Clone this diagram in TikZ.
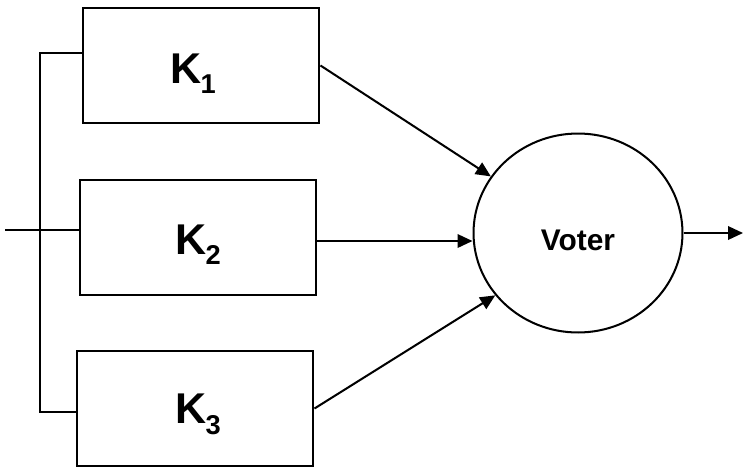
\documentclass[tikz,border=0pt]{standalone}
\usepackage{fontspec}
\setmainfont{Liberation Sans}
\usetikzlibrary{arrows.meta,shapes.geometric}

\newcommand{\klabel}[1]{K\kern-0.5pt\raisebox{-6pt}{\fontsize{15.5}{16}\selectfont #1}}

\tikzset{
    kbox/.style={draw, line width=1.15pt, minimum width=4.74cm, minimum height=2.3cm,
                 inner sep=0pt},
    ktext/.style={inner sep=0pt, font=\fontsize{24.5}{28}\selectfont\bfseries},
    voterc/.style={draw, ellipse, line width=1.15pt, minimum width=4.18cm, minimum height=3.98cm,
                   inner sep=0pt},
    vtext/.style={inner sep=0pt, font=\fontsize{17}{20}\selectfont\bfseries},
    arr/.style={-{Triangle[length=0.3cm, width=0.27cm]}, line width=1.15pt},
    wire/.style={line width=1.15pt}
}

\begin{document}
\begin{tikzpicture}[x=0.02cm, y=-0.02cm]
            \useasboundingbox (0, 0) rectangle (743, 467);

            % the three channels
            \foreach \i/\x/\y/\dx/\dy in {1/201/65.5/-8/8, 2/198/237.5/0/7, 3/195/408.5/3/6}{
                \node[kbox] (k\i) at (\x, \y) {};
                \node[ktext] (klab\i) at (\x+\dx, \y+\dy) {\klabel{\i}};
            }

            \node[voterc] (voter) at (578, 233) {};
            \node[vtext] (vlab) at (578, 240) {Voter};

            \coordinate (bustop) at (40, 53);
            \coordinate (busbot) at (40, 412);
            \coordinate (in) at (5, 230);
            \coordinate (out) at (743, 233);

            \draw[wire] (k1.west |- bustop) -- (bustop) -- (busbot) -- (k3.west |- busbot);
            \draw[wire] (in) -- (k2.west |- in);

            \draw[arr] (k1.east) -- (voter.147);
            \draw[arr] (k2.east |- 0,241) -- (voter.west |- 0,241);
            \draw[arr] (k3.east) -- (voter.217);
            \draw[arr] (voter.east) -- (out);
        \end{tikzpicture}
\end{document}
